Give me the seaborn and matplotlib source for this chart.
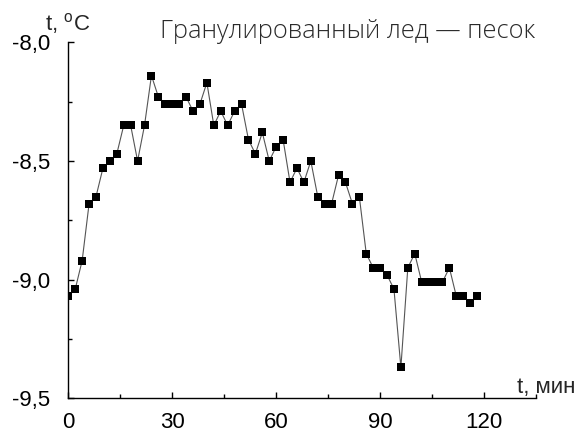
import matplotlib
matplotlib.use("Agg")
import matplotlib.pyplot as plt
import seaborn as sns
import pandas as pd
from matplotlib.ticker import FixedLocator

time_min = [0, 2, 4, 6, 8, 10, 12, 14, 16, 18, 20, 22, 24, 26, 28, 30, 32, 34, 36, 38,
            40, 42, 44, 46, 48, 50, 52, 54, 56, 58, 60, 62, 64, 66, 68, 70, 72, 74, 76, 78,
            80, 82, 84, 86, 88, 90, 92, 94, 96, 98, 100, 102, 104, 106, 108, 110, 112, 114, 116, 118]
temp_c = [-9.07, -9.04, -8.92, -8.68, -8.65, -8.53, -8.50, -8.47, -8.35, -8.35,
          -8.50, -8.35, -8.14, -8.23, -8.26, -8.26, -8.26, -8.23, -8.29, -8.26,
          -8.17, -8.35, -8.29, -8.35, -8.29, -8.26, -8.41, -8.47, -8.38, -8.50,
          -8.44, -8.41, -8.59, -8.53, -8.59, -8.50, -8.65, -8.68, -8.68, -8.56,
          -8.59, -8.68, -8.65, -8.89, -8.95, -8.95, -8.98, -9.04, -9.37, -8.95,
          -8.89, -9.01, -9.01, -9.01, -9.01, -8.95, -9.07, -9.07, -9.10, -9.07]

xticks_major = [0, 30, 60, 90, 120]
xtick_labels = ["0", "30", "60", "90", "120"]
xticks_minor = [15, 45, 75, 105, 135]
yticks_major = [-9.5, -9.0, -8.5, -8.0]
ytick_labels = ["-9,5", "-9,0", "-8,5", "-8,0"]
yticks_minor = [-9.25, -8.75, -8.25]

title_text = "Гранулированный лед — песок"
ylabel_text = r"t, $^{\mathrm{o}}$C"
xlabel_text = "t, мин"

sns.set_style("white")
plt.rcParams["font.family"] = ["Liberation Sans", "DejaVu Sans"]
plt.rcParams["mathtext.fontset"] = "custom"
plt.rcParams["mathtext.rm"] = "Liberation Sans"

df = pd.DataFrame({"t": time_min, "temp": temp_c})

W, H = 585, 430
fig = plt.figure(figsize=(W / 100, H / 100), dpi=100)
x0, x1 = 68.3, 536
y_top, y_bot = 42.3, 398.3
ax = fig.add_axes([x0 / W, 1 - y_bot / H, (x1 - x0) / W, (y_bot - y_top) / H])

sns.lineplot(data=df, x="t", y="temp", ax=ax, color="#555555", linewidth=0.8,
             marker="s", markersize=5.4, markerfacecolor="black",
             markeredgecolor="black", markeredgewidth=0)

ax.set_xlim(0, 135)
ax.set_ylim(-9.5, -8.0)
ax.set_xlabel("")
ax.set_ylabel("")

for s in ["top", "right"]:
    ax.spines[s].set_visible(False)
for s in ["left", "bottom"]:
    ax.spines[s].set_color("black")
    ax.spines[s].set_linewidth(1.0)

ax.xaxis.set_major_locator(FixedLocator(xticks_major))
ax.set_xticklabels(xtick_labels)
ax.xaxis.set_minor_locator(FixedLocator(xticks_minor))
ax.yaxis.set_major_locator(FixedLocator(yticks_major))
ax.set_yticklabels(ytick_labels)
ax.yaxis.set_minor_locator(FixedLocator(yticks_minor))

ax.tick_params(axis="both", which="major", direction="in", length=4, width=1.0,
               labelsize=16, color="black", labelcolor="black")
ax.tick_params(axis="both", which="minor", direction="in", length=3, width=1.0, color="black")
ax.tick_params(axis="x", which="major", pad=10)
ax.tick_params(axis="y", which="major", pad=13)
ax.tick_params(left=True, bottom=True, which="both")

fig.text(45 / W, 1 - 30 / H, ylabel_text, fontsize=16, ha="left", va="baseline")
fig.text(575 / W, 1 - 393 / H, xlabel_text, fontsize=16, ha="right", va="baseline")
fig.text(347.5 / W, 1 - 38 / H, title_text, fontsize=18.3, ha="center", va="baseline",
         family=["Open Sans", "DejaVu Sans"], fontweight="light", color="#2a2a2a")

fig.savefig("out.png", dpi=100)
